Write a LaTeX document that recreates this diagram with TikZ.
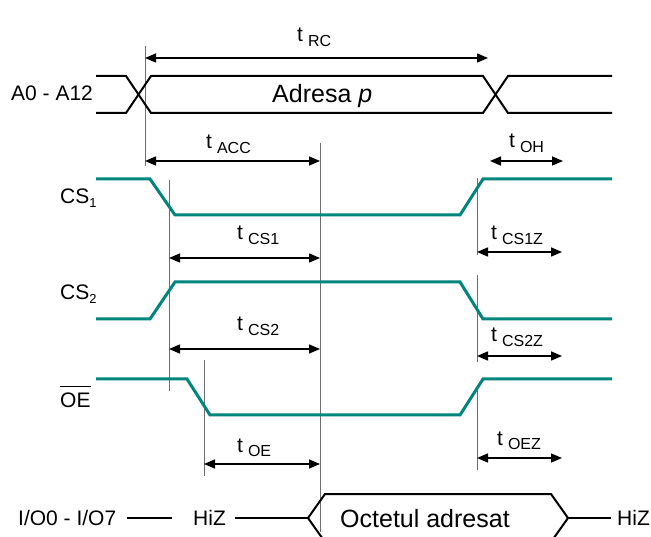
\documentclass[tikz,border=0pt]{standalone}
\usepackage{fontspec}
\setmainfont{Liberation Sans}
\usetikzlibrary{arrows.meta}
\definecolor{sigteal}{RGB}{0,133,125}
\definecolor{guidegray}{RGB}{110,110,110}
\newcommand{\tlab}[1]{t\hspace{5pt}\raisebox{-5pt}{\fontsize{16}{18}\selectfont #1}}
\newcommand{\sublab}[1]{\raisebox{-4pt}{\fontsize{13}{15}\selectfont #1}}
\begin{document}
\begin{tikzpicture}[x=1pt,y=-1pt,
  bus/.style={line width=2pt, black, line join=miter},
  sig/.style={line width=3pt, sigteal},
  guide/.style={line width=0.9pt, guidegray},
  dim/.style={line width=1.5pt, {Triangle[length=11pt,width=9pt]}-{Triangle[length=11pt,width=9pt]}},
  lbl/.style={anchor=base west, inner sep=0pt, font=\fontsize{21}{25}\selectfont},
  big/.style={anchor=base west, inner sep=0pt, font=\fontsize{25}{30}\selectfont}]
\fill[white] (0,0) rectangle (651,537);
\useasboundingbox (0,0) rectangle (651,537);
\clip (0,0) rectangle (651,537);

% guides
\draw[guide] (145,46) -- (145,166);
\draw[guide] (320,143) -- (320,532);
\draw[guide] (169,180) -- (169,391);
\draw[guide] (204,360) -- (204,476);
\draw[guide] (477,178) -- (477,255);
\draw[guide] (477,275) -- (477,362);
\draw[guide] (477,386) -- (477,470);

% address bus
\draw[bus] (96,76) -- (126,76) -- (151,113) -- (483,113) -- (508,76) -- (612,76);
\draw[bus] (96,113) -- (126,113) -- (151,76) -- (483,76) -- (508,113) -- (612,113);

% control signals
\draw[sig] (96,179) -- (150,179) -- (175,215) -- (460,215) -- (483,179) -- (612,179);
\draw[sig] (96,319) -- (150,319) -- (175,282) -- (460,282) -- (483,319) -- (612,319);
\draw[sig] (96,379) -- (187,379) -- (210,415) -- (460,415) -- (483,379) -- (612,379);

% data bus
\node[lbl] (io) at (18,525) {I/O0 - I/O7};
\node[lbl] (hiz1) at (193,525) {HiZ};
\node[lbl] (hiz2) at (617,525) {HiZ};
\coordinate (hexL) at (308,518);
\coordinate (hexR) at (568,518);
\draw[bus] (127,518) -- (172,518);
\draw[bus] (235,518) -- (hexL);
\draw[bus] (hexL) -- (325,494) -- (551,494) -- (hexR) -- (551,542) -- (325,542) -- cycle;
\draw[bus] (hexR) -- (611,518);
\node[big] (oct) at (340,527) {Octetul adresat};

% signal labels
\node[lbl] (addr) at (11,101) {A0 - A12};
\node[big] (adr) at (272,103) {Adresa \textit{p}};
\node[lbl] (cs1) at (60,204) {CS\sublab{1}};
\node[lbl] (cs2) at (60,300) {CS\sublab{2}};
\node[lbl] (oe) at (60,408) {OE};
\draw[line width=1pt] ([yshift=7pt]oe.north west) -- ([yshift=7pt]oe.north east);

% dimension arrows
\coordinate (rcA) at (145,58);  \coordinate (rcB) at (488,58);
\coordinate (accA) at (145,161); \coordinate (accB) at (320,161);
\coordinate (ohA) at (490,161); \coordinate (ohB) at (563,161);
\coordinate (cs1A) at (169,258); \coordinate (cs1B) at (320,258);
\coordinate (cs1zA) at (477,252); \coordinate (cs1zB) at (562,252);
\coordinate (cs2A) at (169,349); \coordinate (cs2B) at (320,349);
\coordinate (cs2zA) at (477,356); \coordinate (cs2zB) at (562,356);
\coordinate (oeA) at (204,464); \coordinate (oeB) at (320,464);
\coordinate (oezA) at (477,458); \coordinate (oezB) at (562,458);
\draw[dim] (rcA) -- (rcB);
\draw[dim] (accA) -- (accB);
\draw[dim] (ohA) -- (ohB);
\draw[dim] (cs1A) -- (cs1B);
\draw[dim] (cs1zA) -- (cs1zB);
\draw[dim] (cs2A) -- (cs2B);
\draw[dim] (cs2zA) -- (cs2zB);
\draw[dim] (oeA) -- (oeB);
\draw[dim] (oezA) -- (oezB);

% timing labels
\node[lbl] (trc) at (297,42) {\tlab{RC}};
\node[lbl] (tacc) at (206,149) {\tlab{ACC}};
\node[lbl] (toh) at (509,148) {\tlab{OH}};
\node[lbl] (tcs1) at (237,240) {\tlab{CS1}};
\node[lbl] (tcs1z) at (491,240) {\tlab{CS1Z}};
\node[lbl] (tcs2) at (237,331) {\tlab{CS2}};
\node[lbl] (tcs2z) at (491,342) {\tlab{CS2Z}};
\node[lbl] (toe) at (237,452) {\tlab{OE}};
\node[lbl] (toez) at (497,445) {\tlab{OEZ}};
\end{tikzpicture}
\end{document}
